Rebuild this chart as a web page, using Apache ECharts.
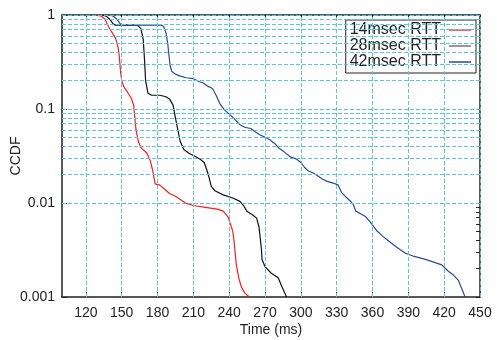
<!DOCTYPE html>
<html>
<head>
<meta charset="utf-8">
<script src="https://cdn.jsdelivr.net/npm/echarts@6/dist/echarts.min.js"></script>
<style>
  html, body { margin: 0; padding: 0; background: #fff; }
  #chart { width: 497px; height: 340px; }
</style>
</head>
<body>
<div id="chart"></div>
<script>
// tick values
const xTicks = [120, 150, 180, 210, 240, 270, 300, 330, 360, 390, 420, 450]
const yMajor = [0.001, 0.01, 0.1, 1]
const yMinor = [
  0.002, 0.003, 0.004, 0.005, 0.006, 0.007, 0.008, 0.009,
  0.02, 0.03, 0.04, 0.05, 0.06, 0.07, 0.08, 0.09,
  0.2, 0.3, 0.4, 0.5, 0.6, 0.7, 0.8, 0.9,
]

const seriesNames = ['14msec RTT', '28msec RTT', '42msec RTT']

// [time ms, ccdf]
const rtt14 = [
  [128, 1], [133, 0.97], [136, 0.9], [139, 0.75], [141, 0.68], [145, 0.56], [147, 0.45],
  [148, 0.36], [149, 0.25], [150, 0.2], [152, 0.17], [155, 0.15], [158, 0.13], [160, 0.11],
  [161, 0.08], [162, 0.06], [164, 0.045], [166, 0.039], [168, 0.037], [171, 0.034],
  [174, 0.028], [176, 0.022], [178, 0.016], [182, 0.0155], [186, 0.014], [190, 0.0126],
  [195, 0.0118], [200, 0.0107], [204, 0.0099], [210, 0.0094], [220, 0.009], [230, 0.0086],
  [235, 0.0082], [239, 0.0071], [241, 0.006], [243, 0.005], [244, 0.004], [245, 0.0029],
  [246, 0.0022], [248, 0.0016], [250, 0.0013], [253, 0.0011], [257, 0.001],
]
const rtt28 = [
  [134, 1], [137, 0.97], [140, 0.9], [143, 0.8], [145, 0.78], [155, 0.78], [163, 0.78],
  [166, 0.72], [168, 0.55], [169, 0.35], [170, 0.2], [172, 0.147], [175, 0.14], [182, 0.14],
  [187, 0.135], [190, 0.128], [193, 0.11], [195, 0.08], [197, 0.06], [199, 0.045],
  [202, 0.037], [206, 0.034], [212, 0.031], [216, 0.029], [219, 0.027], [221, 0.023],
  [223, 0.019], [225, 0.015], [228, 0.0135], [235, 0.0122], [243, 0.0113], [249, 0.0104],
  [252, 0.0094], [255, 0.0081], [260, 0.0074], [263, 0.0069], [265, 0.0055], [266, 0.0042],
  [267, 0.0032], [267.5, 0.0025], [270, 0.0021], [275, 0.0018], [281, 0.0016],
  [284, 0.0013], [288, 0.001],
]
const rtt42 = [
  [140, 1], [143, 0.97], [146, 0.9], [149, 0.8], [152, 0.78], [170, 0.78], [183, 0.78],
  [185, 0.76], [187, 0.65], [188.5, 0.5], [189.5, 0.38], [190.5, 0.29], [192, 0.25],
  [195, 0.235], [199, 0.224], [204, 0.215], [210, 0.21], [215, 0.195], [218, 0.19],
  [222, 0.175], [226, 0.165], [229, 0.14], [232, 0.115], [236, 0.098], [241, 0.086],
  [245, 0.077], [249, 0.068], [253, 0.064], [258, 0.062], [262, 0.057], [266, 0.053],
  [270, 0.05], [274, 0.047], [278, 0.043], [282, 0.038], [286, 0.035], [291, 0.031],
  [296, 0.0295], [300, 0.027], [303, 0.024], [306, 0.022], [310, 0.021], [314, 0.0195],
  [318, 0.018], [322, 0.017], [327, 0.0163], [331, 0.0156], [334, 0.013], [338, 0.0115],
  [342, 0.0103], [344, 0.0096], [346, 0.0082], [350, 0.0077], [354, 0.0072], [358, 0.0063],
  [361, 0.0056], [364, 0.005], [368, 0.0045], [374, 0.0039], [380, 0.0034], [388, 0.0029],
  [395, 0.0027], [405, 0.0025], [418, 0.0022], [423, 0.0019], [428, 0.0017], [432, 0.0015],
  [435, 0.0012], [437.5, 0.001],
]

const COLORS = ['#ff1a1a', '#111111', '#2a46a0']
const LEGEND_COLORS = ['#ff3030', '#777777', '#2a46a0']
const GRID_COLOR = '#5cc6dc'
const FONT = 'Liberation Sans, Arial, sans-serif'

const chart = echarts.init(document.getElementById('chart'))

const gridLine = { color: GRID_COLOR, type: [4, 2], width: 1 }
const frame = { show: true, onZero: false, lineStyle: { color: '#222', width: 1.5 } }

chart.setOption({
  animation: false,
  textStyle: { fontFamily: FONT },
  grid: { left: 62, right: 17, top: 15, bottom: 43, outerBoundsMode: 'none', containLabel: false },
  legend: {
    data: seriesNames.map((name, i) => ({ name, itemStyle: { color: LEGEND_COLORS[i] } })),
    orient: 'vertical',
    right: 21,
    top: 20,
    align: 'right',
    icon: 'rect',
    itemWidth: 22,
    itemHeight: 1.5,
    itemGap: 0,
    padding: [2, 5, 3, 4],
    backgroundColor: '#fff',
    borderColor: '#222',
    borderWidth: 1,
    borderRadius: 0,
    textStyle: { fontSize: 16, color: '#222', fontFamily: FONT, lineHeight: 15, padding: [0, 3, 0, 0] },
  },
  xAxis: [
    {
      type: 'value',
      min: 100,
      max: 450,
      name: 'Time (ms)',
      nameLocation: 'middle',
      nameGap: 26,
      nameMoveOverlap: false,
      nameTextStyle: { fontSize: 14, color: '#222' },
      axisLine: frame,
      axisTick: { show: true, inside: true, length: 5, customValues: xTicks, lineStyle: { color: '#222' } },
      axisLabel: { customValues: xTicks, fontSize: 14, color: '#222', margin: 9 },
      splitLine: { show: false },
    },
    {
      type: 'value',
      position: 'top',
      min: 100,
      max: 450,
      axisLine: frame,
      axisTick: { show: true, inside: true, length: 5, customValues: xTicks, lineStyle: { color: '#222' } },
      axisLabel: { show: false },
      splitLine: { show: false },
    },
  ],
  yAxis: [
    {
      type: 'log',
      logBase: 10,
      min: 0.001,
      max: 1,
      name: 'CCDF',
      nameLocation: 'middle',
      nameGap: 46,
      nameRotate: 90,
      nameMoveOverlap: false,
      nameTextStyle: { fontSize: 14, color: '#222', verticalAlign: 'middle' },
      axisLine: frame,
      axisTick: { show: true, inside: true, length: 5, customValues: yMajor, lineStyle: { color: '#222' } },
      axisLabel: { customValues: yMajor, fontSize: 14, color: '#222', margin: 7, formatter: v => String(v) },
      splitLine: { show: false },
    },
    {
      type: 'log',
      logBase: 10,
      min: 0.001,
      max: 1,
      position: 'right',
      axisLine: frame,
      axisTick: { show: true, inside: true, length: 4, customValues: yMajor.concat(yMinor), lineStyle: { color: '#222' } },
      axisLabel: { show: false },
      splitLine: { show: false },
    },
  ],
  series: [
    {
      name: 'grid',
      type: 'line',
      data: [],
      z: 1,
      silent: true,
      markLine: {
        silent: true,
        symbol: 'none',
        animation: false,
        label: { show: false },
        lineStyle: gridLine,
        emphasis: { disabled: true },
        data: xTicks.map(v => ({ xAxis: v }))
          .concat(yMajor.concat(yMinor).map(v => ({ yAxis: v }))),
      },
    },
    ...[rtt14, rtt28, rtt42].map((d, i) => ({
      name: seriesNames[i],
      type: 'line',
      data: d,
      z: 3,
      symbol: 'none',
      smooth: false,
      lineStyle: { width: 1.2, color: COLORS[i] },
      itemStyle: { color: COLORS[i] },
    })),
  ],
})
</script>
</body>
</html>
